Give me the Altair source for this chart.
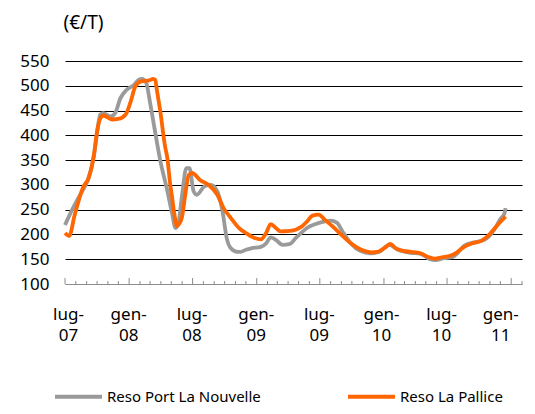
import altair as alt
import pandas as pd

SERIES = ["Reso Port La Nouvelle", "Reso La Pallice"]
COLORS = ["#9a9a9a", "#ff6600"]

nouvelle_dates = [
    "2007-07-01", "2007-07-10", "2007-07-29", "2007-08-19", "2007-09-03", "2007-09-22",
    "2007-10-01", "2007-10-10", "2007-10-19", "2007-11-08", "2007-11-22", "2007-12-07",
    "2007-12-25", "2008-01-15", "2008-01-28", "2008-02-07", "2008-02-19", "2008-03-01",
    "2008-03-16", "2008-03-30", "2008-04-19", "2008-05-03", "2008-05-13", "2008-05-22",
    "2008-06-01", "2008-06-13", "2008-06-22", "2008-07-04", "2008-07-13", "2008-08-04",
    "2008-08-22", "2008-09-10", "2008-09-25", "2008-10-07", "2008-10-19", "2008-11-07",
    "2008-11-16", "2008-12-01", "2008-12-16", "2009-01-13", "2009-01-28", "2009-02-10",
    "2009-02-25", "2009-03-16", "2009-04-07", "2009-04-22", "2009-05-07", "2009-05-25",
    "2009-06-19", "2009-07-13", "2009-08-01", "2009-08-19", "2009-09-04", "2009-09-28",
    "2009-10-25", "2009-11-25", "2009-12-19", "2010-01-16", "2010-02-10", "2010-03-19",
    "2010-04-16", "2010-05-13", "2010-05-28", "2010-06-22", "2010-07-16", "2010-08-01",
    "2010-08-19", "2010-09-16", "2010-10-16", "2010-11-13", "2010-12-01", "2010-12-13",
    "2010-12-16",
]
nouvelle_vals = [
    219, 233, 260, 287, 307, 358,
    405, 442, 445, 438, 445, 475,
    492, 502, 512, 514, 506, 466,
    405, 350, 290, 243, 213, 226,
    280, 334, 334, 287, 280, 297,
    300, 287, 246, 192, 172, 165,
    165, 169, 172, 175, 182, 194,
    189, 179, 181, 192, 202, 213,
    221, 226, 228, 224, 206, 182,
    167, 162, 165, 179, 169, 163,
    161, 150, 148, 152, 154, 163,
    177, 184, 189, 209, 231, 243,
    253,
]

pallice_dates = [
    "2007-07-01", "2007-07-13", "2007-07-29", "2007-08-23", "2007-09-07", "2007-09-22",
    "2007-10-01", "2007-10-09", "2007-10-19", "2007-11-13", "2007-12-01", "2007-12-22",
    "2008-01-04", "2008-01-19", "2008-02-04", "2008-02-28", "2008-03-10", "2008-03-16",
    "2008-03-20", "2008-03-30", "2008-04-14", "2008-04-19", "2008-04-28", "2008-05-03",
    "2008-05-10", "2008-05-17", "2008-05-22", "2008-06-01", "2008-06-10", "2008-06-20",
    "2008-06-30", "2008-07-22", "2008-08-16", "2008-09-10", "2008-09-28", "2008-10-19",
    "2008-11-07", "2008-11-16", "2008-12-01", "2008-12-16", "2009-01-13", "2009-01-28",
    "2009-02-10", "2009-02-25", "2009-03-10", "2009-04-07", "2009-05-10", "2009-05-25",
    "2009-06-10", "2009-06-28", "2009-07-16", "2009-08-07", "2009-09-01", "2009-09-28",
    "2009-10-25", "2009-11-25", "2009-12-13", "2010-01-07", "2010-01-19", "2010-02-04",
    "2010-02-25", "2010-03-19", "2010-04-16", "2010-05-10", "2010-05-28", "2010-06-16",
    "2010-07-10", "2010-07-25", "2010-08-13", "2010-09-07", "2010-10-07", "2010-10-25",
    "2010-11-13", "2010-11-28", "2010-12-16",
]
pallice_vals = [
    203, 197, 240, 297, 314, 361,
    408, 432, 440, 432, 433, 442,
    465, 499, 509, 511, 514, 512,
    494, 450, 374, 357, 300, 276,
    240, 217, 220, 236, 280, 320,
    324, 310, 300, 280, 253, 233,
    216, 210, 203, 196, 190, 203,
    221, 213, 206, 207, 216, 226,
    238, 240, 229, 216, 199, 182,
    170, 164, 165, 175, 181, 172,
    167, 165, 162, 154, 151, 154,
    157, 162, 172, 181, 187, 196,
    211, 223, 236,
]

y_ticks = [100, 150, 200, 250, 300, 350, 400, 450, 500, 550]
x_label_dates = [(2007, 7), (2008, 1), (2008, 7), (2009, 1), (2009, 7), (2010, 1), (2010, 7), (2011, 1)]

FONT = "Noto Sans"

df = pd.concat([
    pd.DataFrame({"date": nouvelle_dates, "value": nouvelle_vals, "series": SERIES[0]}),
    pd.DataFrame({"date": pallice_dates, "value": pallice_vals, "series": SERIES[1]}),
], ignore_index=True)

tick_months = pd.date_range("2007-07-01", "2011-02-01", freq="MS")
ticks_df = pd.DataFrame({
    "date": tick_months.strftime("%Y-%m-%d"),
    "base": 100,
    "top": [112 if m.month in (1, 7) else 106 for m in tick_months],
})

x_scale = alt.Scale(
    type="utc",
    domain=[alt.DateTime(year=2007, month=7, date=1, utc=True),
            alt.DateTime(year=2011, month=2, date=1, utc=True)],
)
y_scale = alt.Scale(domain=[100, 550], nice=False, zero=False)

x_axis = alt.Axis(
    values=[alt.DateTime(year=y, month=m, date=1, utc=True) for y, m in x_label_dates],
    labelExpr="[utcmonth(datum.value) == 6 ? 'lug-' : 'gen-', utcFormat(datum.value, '%y')]",
    ticks=False, grid=False,
    domainColor="#8c8c8c", domainWidth=1,
    labelFont=FONT, labelFontSize=17, labelColor="#000000",
    labelPadding=22, labelBaseline="top", labelLineHeight=21,
    labelOffset={
        "condition": [
            {"test": "utcyear(datum.value) == 2011", "value": -11},
            {"test": "utcyear(datum.value) == 2010 && utcmonth(datum.value) == 6", "value": -6},
            {"test": "utcyear(datum.value) == 2010", "value": -3},
            {"test": "utcyear(datum.value) == 2007", "value": 3},
        ],
        "value": -1,
    },
    labelOverlap=False, labelFlush=False, labelAlign="center",
    title=None,
)
y_axis = alt.Axis(
    values=y_ticks, domain=False, ticks=False, grid=True,
    gridColor={"condition": {"test": "datum.value === 100", "value": "#8c8c8c"}, "value": "#000000"},
    gridWidth=1,
    labelFont=FONT, labelFontSize=17, labelColor="#000000", labelPadding=16,
    title="(€/T)", titleAngle=0, titleAlign="left", titleBaseline="top",
    titleX=-2, titleY=-48, titleFont=FONT, titleFontSize=19,
    titleFontWeight="normal", titleColor="#000000",
)

color_scale = alt.Scale(domain=SERIES, range=COLORS)
legend = alt.Legend(
    title=None, orient="none", legendX=-12, legendY=310, direction="horizontal",
    symbolType="stroke", symbolSize=2209, symbolStrokeWidth=4,
    labelFont=FONT, labelFontSize=15, labelColor="#000000", labelOffset=3,
    columnPadding=79, labelLimit=400,
)

ticks = alt.Chart(ticks_df).mark_rule(color="#8c8c8c", strokeWidth=1).encode(
    x=alt.X("date:T", scale=x_scale, axis=x_axis),
    y=alt.Y("base:Q", scale=y_scale, axis=y_axis),
    y2="top:Q",
)

def line_layer(name):
    return alt.Chart(df).transform_filter(alt.datum.series == name).mark_line(
        strokeWidth=3.8, interpolate="monotone"
    ).encode(
        x=alt.X("date:T", scale=x_scale, axis=x_axis),
        y=alt.Y("value:Q", scale=y_scale, axis=y_axis),
        color=alt.Color("series:N", scale=color_scale, legend=legend),
    )

chart = alt.layer(ticks, line_layer(SERIES[0]), line_layer(SERIES[1])).properties(
    width=457, height=223,
    autosize=alt.AutoSizeParams(type="none"),
    padding={"left": 57, "top": 53, "right": 5, "bottom": 122},
    background="white",
).configure_view(stroke=None)

chart.save("out.html", embed_options={"renderer": "svg", "actions": False})
